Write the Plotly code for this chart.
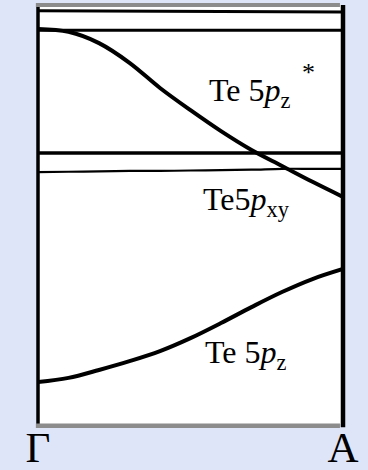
import plotly.graph_objects as go

# Wave-vector path from Gamma (0) to A (1)
k = [0.0, 0.1, 0.2, 0.3, 0.4, 0.5, 0.6, 0.7, 0.8, 0.9, 1.0]
k_ends = [0.0, 1.0]
k_labels = ["Γ", "A"]

# Band energies (arbitrary units)
band_top = [9.86, 9.83]
band_flat_upper = [9.40, 9.40]
band_pz_star = [9.43, 9.36, 9.09, 8.62, 8.02, 7.49, 6.99, 6.54, 6.16, 5.78, 5.42]
band_flat_mid = [6.47, 6.47]
band_pxy = [6.01, 6.02, 6.03, 6.04, 6.04, 6.05, 6.06, 6.07, 6.09, 6.09, 6.09]
band_pz = [1.00, 1.10, 1.29, 1.50, 1.74, 2.05, 2.41, 2.79, 3.15, 3.46, 3.70]

serif = "Liberation Serif, Times New Roman, serif"

fig = go.Figure()

def band(x, y, w):
    fig.add_trace(go.Scatter(
        x=x, y=y, mode="lines",
        line=dict(color="black", width=w, shape="spline", smoothing=1.0),
        hoverinfo="skip", showlegend=False,
    ))

band(k_ends, band_top, 3)
band(k_ends, band_flat_upper, 3)
band(k_ends, band_flat_mid, 3.5)
band(k, band_pxy, 2.2)
band(k, band_pz_star, 4)
band(k, band_pz, 4)

# Band labels
fig.add_annotation(x=0.555, y=7.92, text="Te 5<i>p</i><sub>z</sub>",
                   showarrow=False, xanchor="left", yanchor="middle",
                   font=dict(family=serif, size=32, color="black"))
fig.add_annotation(x=0.858, y=8.40, text="*",
                   showarrow=False, xanchor="left", yanchor="middle",
                   font=dict(family=serif, size=26, color="black"))
fig.add_annotation(x=0.535, y=5.32, text="Te5<i>p</i><sub>xy</sub>",
                   showarrow=False, xanchor="left", yanchor="middle",
                   font=dict(family=serif, size=32, color="black"))
fig.add_annotation(x=0.54, y=1.65, text="Te 5<i>p</i><sub>z</sub>",
                   showarrow=False, xanchor="left", yanchor="middle",
                   font=dict(family=serif, size=32, color="black"))

# Frame: black sides, grey top and bottom
fig.add_shape(type="line", xref="paper", yref="paper", x0=0, x1=0, y0=-0.004, y1=1.0,
              line=dict(color="black", width=3.5))
fig.add_shape(type="line", xref="paper", yref="paper", x0=1.0, x1=1.0, y0=-0.008, y1=1.0,
              line=dict(color="black", width=4.5))
fig.add_shape(type="line", xref="paper", yref="paper", x0=-0.007, x1=0.99, y0=1.0, y1=1.0,
              line=dict(color="#8c8c8c", width=4))
fig.add_shape(type="line", xref="paper", yref="paper", x0=-0.007, x1=0.99, y0=-0.004, y1=-0.004,
              line=dict(color="#8c8c8c", width=4.5))

fig.update_xaxes(range=[0, 1], tickvals=k_ends, ticktext=k_labels,
                 showgrid=False, zeroline=False, showline=False, ticks="",
                 automargin=False, ticklabelstandoff=-6,
                 tickfont=dict(family=serif, size=43, color="black"))
fig.update_yaxes(range=[0, 10], showticklabels=False, showgrid=False,
                 zeroline=False, showline=False, ticks="", automargin=False)

fig.update_layout(
    width=368, height=470,
    margin=dict(l=38, r=25, t=5, b=46, pad=0),
    paper_bgcolor="#DFE5F9",
    plot_bgcolor="white",
)

fig.write_html("out.html")
